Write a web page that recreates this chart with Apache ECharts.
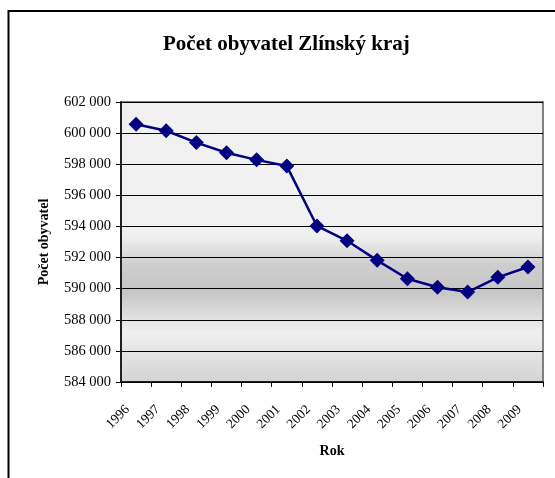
<!DOCTYPE html>
<html><head><meta charset="utf-8">
<script src="https://cdn.jsdelivr.net/npm/echarts@6/dist/echarts.min.js"></script>
<style>html,body{margin:0;padding:0;background:#fff}#c{width:555px;height:478px}</style>
</head><body><div id="c"></div>
<script>
var years = ['1996','1997','1998','1999','2000','2001','2002','2003','2004','2005','2006','2007','2008','2009'];
var population = [600570, 600150, 599390, 598740, 598280, 597880, 594030, 593080, 591820, 590640, 590090, 589780, 590730, 591390];
var yMin = 584000, yMax = 602000, yStep = 2000;

var chart = echarts.init(document.getElementById('c'), null, {renderer:'canvas'});
var serif = '"Liberation Serif","DejaVu Serif",serif';
chart.setOption({
  animation:false,
  backgroundColor:'#fff',
  title:{text:'Počet obyvatel Zlínský kraj', left:158, top:29, textStyle:{fontFamily:serif, fontSize:21, fontWeight:'bold', color:'#000'}},
  graphic:[
    {type:'polyline', shape:{points:[[8.5,478],[8.5,11],[555,11]]}, style:{stroke:'#000', lineWidth:2, fill:null}, z:10}
  ],
  grid:{left:121, right:12, top:102, bottom:96, show:true, borderColor:'#808080', borderWidth:2,
    backgroundColor:{type:'linear', x:0, y:0, x2:0, y2:1, colorStops:[
      {offset:0, color:'#f1f1f1'},
      {offset:0.48, color:'#f0f0f0'},
      {offset:0.58, color:'#cecece'},
      {offset:0.68, color:'#c6c6c6'},
      {offset:0.82, color:'#f0f0f0'},
      {offset:1, color:'#d3d3d3'}
    ]}},
  xAxis:{type:'category', data:years, boundaryGap:true,
    axisLine:{lineStyle:{color:'#000', width:1.5}},
    axisTick:{show:true, length:5, lineStyle:{color:'#000'}},
    axisLabel:{rotate:45, fontFamily:serif, fontSize:13.5, color:'#000', margin:17, padding:[0,12,0,0], interval:0},
    name:'Rok', nameLocation:'middle', nameGap:62, nameTextStyle:{fontFamily:serif, fontSize:14, fontWeight:'bold', color:'#000'}},
  yAxis:{type:'value', min:yMin, max:yMax, interval:yStep,
    axisLine:{show:true, lineStyle:{color:'#000', width:1.5}},
    axisTick:{show:true, length:5, lineStyle:{color:'#000'}},
    splitLine:{lineStyle:{color:'#000', width:1}},
    axisLabel:{fontFamily:serif, fontSize:14.5, color:'#000', margin:10,
      formatter:function(v){return String(v).replace(/\B(?=(\d{3})+(?!\d))/g,' ');}},
    name:'Počet obyvatel', nameLocation:'middle', nameGap:70, nameRotate:90,
    nameTextStyle:{fontFamily:serif, fontSize:14, fontWeight:'bold', color:'#000'}},
  series:[{type:'line', data:population, symbol:'diamond', symbolSize:15,
    lineStyle:{color:'#000080', width:2.5}, itemStyle:{color:'#000080'}}]
});
</script></body></html>
